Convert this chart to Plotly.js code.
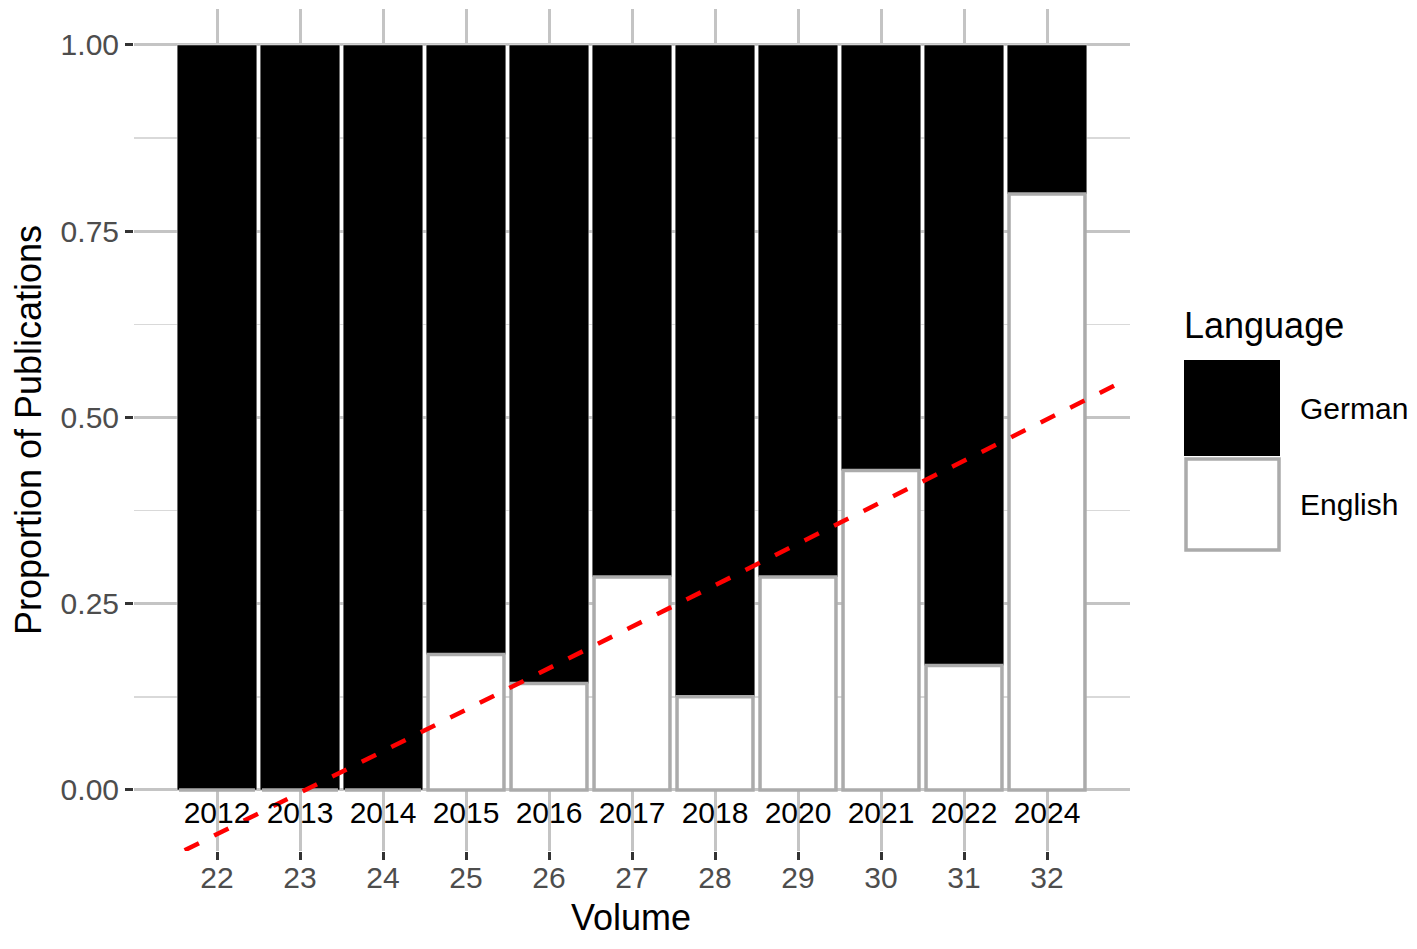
<!DOCTYPE html>
<html>
<head>
<meta charset="utf-8">
<script src="https://cdn.plot.ly/plotly-3.0.1.min.js"></script>
<style>html,body{margin:0;padding:0;background:#fff}</style>
</head>
<body>
<div id="chart" style="width:1417px;height:949px"></div>
<script>
// values
const volumes = ['22', '23', '24', '25', '26', '27', '28', '29', '30', '31', '32'];
const years = ['2012', '2013', '2014', '2015', '2016', '2017', '2018', '2020', '2021', '2022', '2024'];
const english = [0, 0, 0, 0.182, 0.143, 0.286, 0.125, 0.286, 0.429, 0.167, 0.8];
const german = [1, 1, 1, 0.818, 0.857, 0.714, 0.875, 0.714, 0.571, 0.833, 0.2];
const trendX = [-0.39, 10.96];
const trendY = [-0.081, 0.551];
const yearLabelY = -0.034;

const pos = volumes.map((v, i) => i);
const font = '"Liberation Sans", Arial, sans-serif';

// panel in pixels: x 134..1130, y 9..851
const px = p => (p - 134) / 996;
const py = p => (851 - p) / 842;

const germanTrace = {
  type: 'bar',
  x: pos,
  y: german,
  base: english,
  width: 0.96,
  marker: {color: '#000000', line: {color: '#ffffff', width: 0.5}},
  hoverinfo: 'skip'
};

const englishTrace = {
  type: 'bar',
  x: pos,
  y: english,
  width: 0.915,
  marker: {color: '#ffffff', line: {color: '#ababab', width: 3.5}},
  hoverinfo: 'skip'
};

const trend = {
  type: 'scatter',
  mode: 'lines',
  x: trendX,
  y: trendY,
  line: {color: '#ff0000', width: 4.5, dash: '16px,17px'},
  hoverinfo: 'skip'
};

const yearText = {
  type: 'scatter',
  mode: 'text',
  x: pos,
  y: years.map(() => yearLabelY),
  text: years,
  textfont: {family: font, size: 30, color: '#000000'},
  cliponaxis: false,
  hoverinfo: 'skip'
};

const layout = {
  width: 1417,
  height: 949,
  margin: {l: 134, r: 287, t: 9, b: 98},
  paper_bgcolor: '#ffffff',
  plot_bgcolor: '#ffffff',
  barmode: 'overlay',
  showlegend: false,
  font: {family: font},
  xaxis: {
    range: [-1, 11],
    tickvals: pos,
    ticktext: volumes,
    showgrid: true,
    gridcolor: '#c4c4c4',
    gridwidth: 3,
    zeroline: false,
    showline: false,
    ticks: 'outside',
    ticklen: 8,
    tickwidth: 3,
    tickcolor: '#333333',
    ticklabelstandoff: -8,
    tickfont: {family: font, size: 30, color: '#4d4d4d'}
  },
  yaxis: {
    range: [-0.0819, 1.0483],
    tickvals: [0, 0.25, 0.5, 0.75, 1],
    ticktext: ['0.00', '0.25', '0.50', '0.75', '1.00'],
    showgrid: true,
    gridcolor: '#c4c4c4',
    gridwidth: 3,
    minor: {tickvals: [0.125, 0.375, 0.625, 0.875], showgrid: true, gridcolor: '#d9d9d9', gridwidth: 1.5, ticks: ''},
    zeroline: false,
    showline: false,
    ticks: 'outside',
    ticklen: 8,
    tickwidth: 3,
    tickcolor: '#333333',
    tickfont: {family: font, size: 30, color: '#4d4d4d'},
    title: {text: 'Proportion of Publications', font: {family: font, size: 36, color: '#000000'}, standoff: 8}
  },
  shapes: [
    {type: 'rect', xref: 'paper', yref: 'paper', x0: px(1184), x1: px(1280), y0: py(456), y1: py(360),
     fillcolor: '#000000', line: {width: 0}},
    {type: 'rect', xref: 'paper', yref: 'paper', x0: px(1186), x1: px(1279), y0: py(550), y1: py(459),
     fillcolor: '#ffffff', line: {color: '#ababab', width: 3.5}}
  ],
  annotations: [
    {xref: 'paper', yref: 'paper', x: px(631), y: py(918), xanchor: 'center', yanchor: 'middle',
     text: 'Volume', showarrow: false, font: {family: font, size: 36, color: '#000000'}},
    {xref: 'paper', yref: 'paper', x: px(1182), y: py(325), xanchor: 'left', yanchor: 'middle',
     text: 'Language', showarrow: false, font: {family: font, size: 36, color: '#000000'}},
    {xref: 'paper', yref: 'paper', x: px(1298), y: py(408), xanchor: 'left', yanchor: 'middle',
     text: 'German', showarrow: false, font: {family: font, size: 30, color: '#000000'}},
    {xref: 'paper', yref: 'paper', x: px(1298), y: py(505), xanchor: 'left', yanchor: 'middle',
     text: 'English', showarrow: false, font: {family: font, size: 30, color: '#000000'}}
  ]
};

Plotly.newPlot('chart', [germanTrace, englishTrace, trend, yearText], layout, {displayModeBar: false, staticPlot: true});
</script>
</body>
</html>
